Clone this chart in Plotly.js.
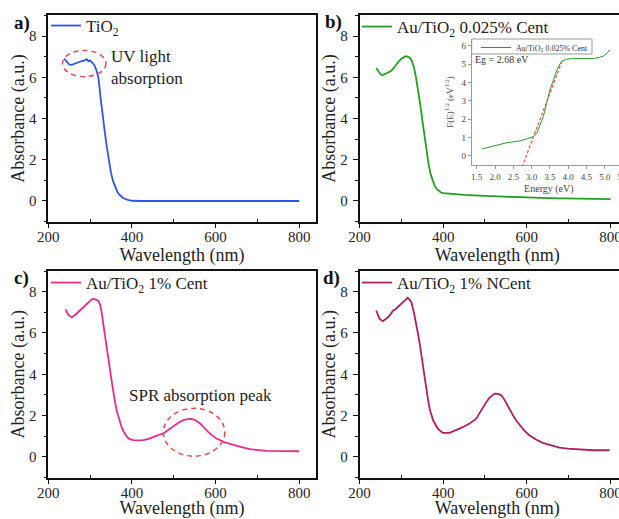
<!DOCTYPE html>
<html>
<head>
<meta charset="utf-8">
<script src="https://cdn.plot.ly/plotly-3.0.1.min.js"></script>
<style>
html,body{margin:0;padding:0;overflow:hidden;background:#fff;}
#chart{width:650px;height:519px;}
</style>
</head>
<body>
<div id="chart"></div>
<script>
// ---------- data ----------
const wlA  = [238,244,250,256,262,268,274,280,286,292,296,300,305,310,315,320,325,330,335,340,345,350,355,360,365,370,375,380,390,400,420,500,600,700,800];
const absA = [6.9,6.75,6.62,6.6,6.66,6.7,6.74,6.78,6.8,6.88,6.78,6.82,6.7,6.6,6.35,5.96,5.0,4.0,3.35,2.6,1.85,1.35,0.95,0.65,0.45,0.3,0.2,0.13,0.05,0.01,0,0,0,0,0];

const wlB  = [240,245,250,255,260,265,270,275,280,285,290,295,300,305,310,315,320,325,330,335,340,345,350,355,360,365,370,375,380,385,390,395,400,420,450,500,550,600,650,700,750,800];
const absB = [6.45,6.3,6.15,6.1,6.15,6.2,6.25,6.3,6.4,6.55,6.65,6.8,6.9,6.95,7.02,7.0,6.95,6.8,6.5,6.0,5.4,4.7,3.95,3.15,2.45,1.8,1.3,0.95,0.72,0.57,0.47,0.41,0.38,0.34,0.3,0.25,0.2,0.17,0.14,0.12,0.1,0.09];

const wlC  = [241,248,256,264,276,284,292,298,304,310,316,320,324,328,332,336,340,344,348,352,356,360,364,370,376,382,388,395,403,415,427,440,451,463,475,487,499,511,523,533,543,553,563,572,582,592,602,622,642,662,682,702,722,760,800];
const absC = [7.14,6.87,6.75,6.87,7.1,7.25,7.43,7.5,7.63,7.65,7.6,7.55,7.35,6.95,6.35,5.85,5.3,4.75,4.15,3.6,3.05,2.6,2.2,1.75,1.4,1.15,0.97,0.86,0.81,0.8,0.81,0.87,0.97,1.05,1.13,1.3,1.49,1.65,1.78,1.83,1.84,1.76,1.62,1.42,1.21,1.04,0.89,0.7,0.57,0.47,0.37,0.33,0.29,0.28,0.27];

const wlD  = [240,248,256,262,268,274,280,286,292,298,304,310,315,320,324,330,336,340,344,348,352,356,360,364,368,376,387,399,415,427,439,451,463,479,495,503,511,517,523,531,539,545,551,559,567,575,583,594,606,622,638,658,678,698,718,758,798];
const absD = [7.08,6.68,6.57,6.65,6.76,6.9,7.08,7.15,7.25,7.35,7.49,7.6,7.7,7.6,7.49,7.0,6.44,5.95,5.47,4.9,4.35,3.86,3.3,2.74,2.3,1.77,1.37,1.16,1.16,1.25,1.37,1.48,1.61,1.85,2.42,2.65,2.87,2.98,3.06,3.05,2.98,2.82,2.58,2.3,2.01,1.75,1.53,1.27,1.05,0.84,0.68,0.55,0.45,0.4,0.37,0.32,0.32];

// inset: Tauc-style plot
const eIn  = [1.64,1.8,1.95,2.1,2.32,2.5,2.68,2.85,3.05,3.14,3.22,3.32,3.41,3.5,3.6,3.69,3.76,3.82,3.9,3.96,4.1,4.32,4.5,4.69,4.85,4.96,5.05,5.1,5.14];
const fIn  = [0.38,0.46,0.54,0.62,0.72,0.77,0.82,0.92,1.05,1.23,1.65,2.14,2.85,3.59,4.15,4.67,4.95,5.13,5.22,5.26,5.29,5.3,5.28,5.3,5.36,5.43,5.56,5.67,5.76];
const fitE = [2.74,3.85];
const fitF = [-0.6,5.25];

const labelA = 'TiO<sub>2</sub>';
const labelB = 'Au/TiO<sub>2</sub> 0.025% Cent';
const labelC = 'Au/TiO<sub>2</sub> 1% Cent';
const labelD = 'Au/TiO<sub>2</sub> 1% NCent';

// ---------- layout helpers ----------
const W = 650, H = 519;
const fx = p => p / W;
const fy = p => 1 - p / H;
const SERIF = 'Liberation Serif';

function xAx(anchor, dom, range) {
  return {
    anchor: anchor, domain: dom, range: range,
    showline: true, mirror: true, linecolor: '#111', linewidth: 1.5,
    ticks: 'outside', ticklen: 5, tickwidth: 1.3, tickcolor: '#111',
    tickvals: [200,400,600,800], ticklabelstandoff: -4,
    minor: {ticks: 'inside', ticklen: 3, tickcolor: '#111', tickvals: [300,500,700], showgrid: false},
    showgrid: false, zeroline: false,
    tickfont: {family: SERIF, size: 15, color: '#222'},
    title: {text: 'Wavelength (nm)', font: {family: SERIF, size: 18, color: '#222'}, standoff: 1}
  };
}
function yAx(anchor, dom) {
  return {
    anchor: anchor, domain: dom, range: [-1, 9],
    showline: true, mirror: true, linecolor: '#111', linewidth: 1.5,
    ticks: 'outside', ticklen: 5, tickwidth: 1.3, tickcolor: '#111',
    tickvals: [0,2,4,6,8], ticklabelstandoff: 2,
    minor: {ticks: 'outside', ticklen: 3, tickcolor: '#111', tickvals: [-1,1,3,5,7,9], showgrid: false},
    showgrid: false, zeroline: false,
    tickfont: {family: SERIF, size: 15, color: '#222'},
    title: {text: 'Absorbance (a.u.)', font: {family: SERIF, size: 18, color: '#222'}, standoff: 0}
  };
}

const domL = [fx(48.3), fx(315.7)];
const domR = [fx(359.5), fx(635)];
const domT = [fy(221.6), fy(15.4)];
const domBt = [fy(477.5), fy(271)];
const rangeL = [200, 839.3];
const rangeR = [200, 858.6];

const cA = '#2f55e6', cB = '#22a022', cC = '#ea2a8e', cD = '#b41d62', cRed = '#e84a4a';

const traces = [
  {x: wlA, y: absA, xaxis: 'x', yaxis: 'y', type: 'scatter', mode: 'lines', name: labelA, line: {color: cA, width: 1.8}, legend: 'legend'},
  {x: wlB, y: absB, xaxis: 'x2', yaxis: 'y2', type: 'scatter', mode: 'lines', name: labelB, line: {color: cB, width: 1.8}, legend: 'legend2'},
  {x: wlC, y: absC, xaxis: 'x3', yaxis: 'y3', type: 'scatter', mode: 'lines', name: labelC, line: {color: cC, width: 1.8}, legend: 'legend3'},
  {x: wlD, y: absD, xaxis: 'x4', yaxis: 'y4', type: 'scatter', mode: 'lines', name: labelD, line: {color: cD, width: 1.8}, legend: 'legend4'},
  {x: eIn, y: fIn, xaxis: 'x5', yaxis: 'y5', type: 'scatter', mode: 'lines', name: labelB, line: {color: cB, width: 1}, legend: 'legend5'},
  {x: fitE, y: fitF, xaxis: 'x5', yaxis: 'y5', type: 'scatter', mode: 'lines', showlegend: false, line: {color: cRed, width: 1.2, dash: '3px,2px'}}
];

function leg(xp, yp, size, extra) {
  return Object.assign({
    x: fx(xp), y: fy(yp), xanchor: 'left', yanchor: 'top', xref: 'paper', yref: 'paper',
    bgcolor: 'rgba(0,0,0,0)', borderwidth: 0,
    font: {family: SERIF, size: size, color: '#222'},
    itemclick: false, itemdoubleclick: false, tracegroupgap: 0
  }, extra || {});
}

function lab(t, xp, yp) {
  return {text: '<b>' + t + '</b>', xref: 'paper', yref: 'paper', x: fx(xp), y: fy(yp),
    xanchor: 'center', yanchor: 'middle', showarrow: false, font: {family: SERIF, size: 19, color: '#111'}};
}

const inAxFont = {family: SERIF, size: 9, color: '#444'};
const layout = {
  width: W, height: H,
  margin: {l: 0, r: 0, t: 0, b: 0},
  paper_bgcolor: '#fff', plot_bgcolor: 'rgba(0,0,0,0)',
  font: {family: SERIF, color: '#222'},
  xaxis: xAx('y', domL, rangeL),   yaxis: yAx('x', domT),
  xaxis2: xAx('y2', domR, rangeR), yaxis2: yAx('x2', domT),
  xaxis3: xAx('y3', domL, rangeL), yaxis3: yAx('x3', domBt),
  xaxis4: xAx('y4', domR, rangeR), yaxis4: yAx('x4', domBt),
  xaxis5: {
    anchor: 'y5', domain: [fx(471.7), fx(626)], range: [1.363, 5.58],
    showline: true, mirror: false, linecolor: '#999', linewidth: 1,
    ticks: 'outside', ticklen: 3, tickcolor: '#999', dtick: 0.5, tick0: 1.5, tickformat: '.1f',
    showgrid: false, zeroline: false, tickfont: inAxFont,
    title: {text: 'Energy (eV)', font: {family: SERIF, size: 10, color: '#444'}, standoff: 4}
  },
  yaxis5: {
    anchor: 'x5', domain: [fy(165), fy(39)], range: [-0.49, 6.36],
    showline: true, mirror: false, linecolor: '#999', linewidth: 1,
    ticks: 'outside', ticklen: 3, tickcolor: '#999', dtick: 1,
    showgrid: false, zeroline: false, tickfont: inAxFont,
    title: {text: 'F(E)<sup>1/2</sup> (eV<sup>1/2</sup>)', font: {family: SERIF, size: 9, color: '#444'}, standoff: 6}
  },
  legend:  leg(46, 8, 17),
  legend2: leg(357, 9, 17),
  legend3: leg(46, 265, 17),
  legend4: leg(357, 265, 17),
  legend5: leg(476, 33, 8, {font: {family: SERIF, size: 8, color: '#333'}}),
  shapes: [
    {type: 'circle', xref: 'x', yref: 'y', x0: 234, x1: 338, y0: 6.03, y1: 7.3, line: {color: cRed, width: 1.5, dash: '5px,4px'}},
    {type: 'circle', xref: 'x3', yref: 'y3', x0: 475, x1: 622, y0: 0.03, y1: 2.35, line: {color: cRed, width: 1.5, dash: '5px,4px'}},
    // frame of the inset legend
    {type: 'rect', xref: 'paper', yref: 'paper', x0: fx(471.7), x1: fx(592), y0: fy(54), y1: fy(39), line: {color: '#999', width: 1}}
  ],
  annotations: [
    lab('a)', 21.5, 23), lab('b)', 333.5, 22), lab('c)', 21.5, 278), lab('d)', 331.5, 277.5),
    {text: 'UV light<br>absorption', xref: 'x', yref: 'y', x: 345, y: 6.48, xanchor: 'left', yanchor: 'middle', align: 'left', showarrow: false, font: {family: SERIF, size: 17, color: '#222'}},
    {text: 'SPR absorption peak', xref: 'x3', yref: 'y3', x: 565, y: 2.97, xanchor: 'center', yanchor: 'middle', showarrow: false, font: {family: SERIF, size: 17, color: '#222'}},
    {text: 'Eg = 2.68 eV', xref: 'paper', yref: 'paper', x: fx(473), y: fy(60), xanchor: 'left', yanchor: 'middle', showarrow: false, font: {family: SERIF, size: 10, color: '#333'}}
  ]
};

Plotly.newPlot('chart', traces, layout, {displayModeBar: false, responsive: false});
</script>
</body>
</html>
